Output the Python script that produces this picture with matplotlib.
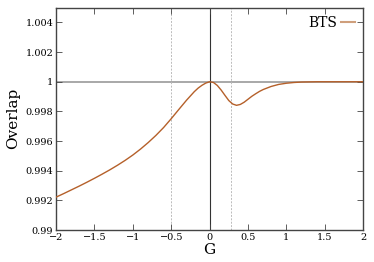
import matplotlib
matplotlib.use("Agg")
import matplotlib.pyplot as plt
from matplotlib.lines import Line2D
from matplotlib.ticker import FuncFormatter

G = [-2.0, -1.9, -1.8, -1.7, -1.6, -1.5, -1.4, -1.3, -1.2, -1.1, -1.0,
     -0.9, -0.8, -0.7, -0.6, -0.5, -0.4, -0.3, -0.2, -0.15, -0.1, -0.05, 0.0,
     0.05, 0.1, 0.15, 0.2, 0.25, 0.3, 0.35, 0.4, 0.45, 0.5, 0.55, 0.6, 0.65,
     0.7, 0.8, 0.9, 1.0, 1.1, 1.2, 1.3, 1.4, 1.6, 1.8, 2.0]
overlap = [0.99222, 0.99246, 0.99271, 0.99296, 0.99322, 0.99349, 0.99377,
           0.99406, 0.99437, 0.99470, 0.99506, 0.99546, 0.99590, 0.99638,
           0.99691, 0.99751, 0.99814, 0.99876, 0.99933, 0.99957, 0.99976,
           0.99991, 1.0, 0.99995, 0.99975, 0.99944, 0.99908, 0.99873,
           0.99850, 0.99841, 0.99847, 0.99862, 0.99882, 0.99902, 0.99919,
           0.99935, 0.99948, 0.99968, 0.99982, 0.99990, 0.99995, 0.99998,
           0.99999, 1.0, 1.0, 1.0, 1.0]
vlines_dashed = [-0.5, 0.28]
xticks = [-2, -1.5, -1, -0.5, 0, 0.5, 1, 1.5, 2]
yticks = [0.99, 0.992, 0.994, 0.996, 0.998, 1.0, 1.002, 1.004]

plt.rcParams['font.family'] = ['DejaVu Serif']
fig = plt.figure(figsize=(3.74, 2.62), dpi=100)
ax = fig.add_axes([0.150, 0.122, 0.821, 0.849])

ax.axhline(1.0, color='#999999', lw=1.2, zorder=1)
ax.axvline(0.0, color='#333333', lw=0.8, zorder=1)
for v in vlines_dashed:
    ax.axvline(v, color='#bbbbbb', lw=0.7, ls=(0, (2, 1.5)), zorder=1)

ax.plot(G, overlap, color='#b5602a', lw=1.0, zorder=3)

ax.set_xlim(-2, 2)
ax.set_ylim(0.99, 1.005)
ax.set_xticks(xticks)
ax.set_yticks(yticks)

def fmt(v, pos):
    s = ('%g' % round(v, 4))
    return s.replace('-', '\u2212')
ax.xaxis.set_major_formatter(FuncFormatter(fmt))
ax.yaxis.set_major_formatter(FuncFormatter(fmt))
ax.tick_params(direction='in', top=True, right=True, length=4, width=0.6,
               labelsize=7, color='#444444', pad=2)
for s in ax.spines.values():
    s.set_color('#444444')
    s.set_linewidth(1.0)

ax.set_xlabel('G', fontsize=11, labelpad=1)
ax.set_ylabel('Overlap', fontsize=11, labelpad=4)

handle = Line2D([], [], color='#cf9f7c', lw=1.5)
ax.legend([handle], ['BTS'], loc='upper right', frameon=False,
          markerfirst=False, handlelength=1.0, fontsize=10,
          borderaxespad=0.2, handletextpad=0.3)

fig.savefig('out.png', dpi=100)
